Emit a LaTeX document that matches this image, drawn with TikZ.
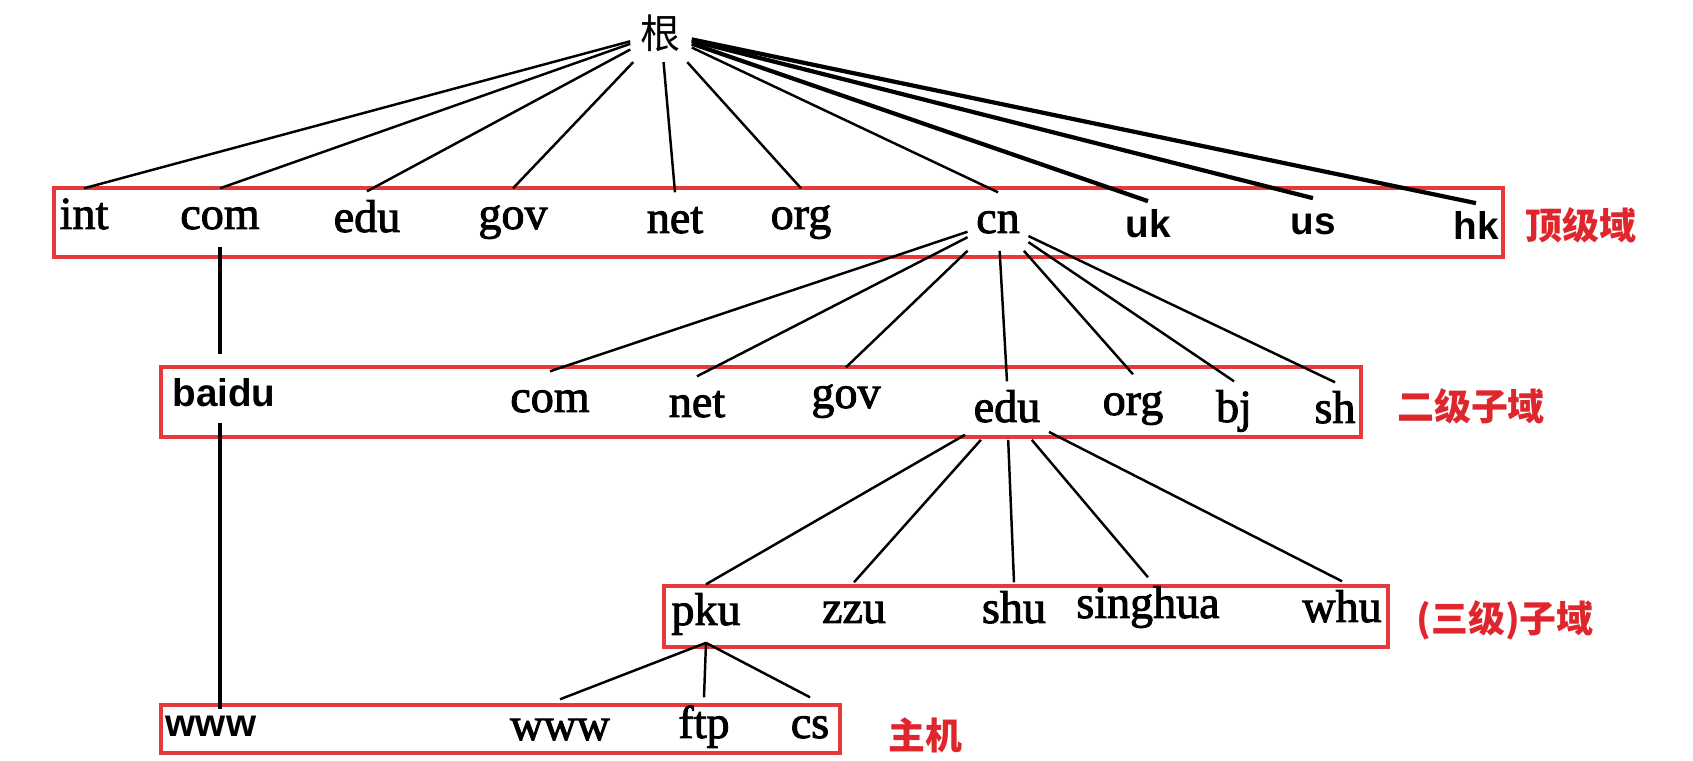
\documentclass[tikz,border=0pt]{standalone}
\usepackage{fontspec}
\setmainfont{Liberation Serif}[FakeBold=2]
\newfontfamily\hostsans{Liberation Sans}
\newfontfamily\cjk{Noto Sans CJK SC}
\definecolor{boxred}{RGB}{228,58,60}
\definecolor{tagred}{RGB}{222,38,44}

\begin{document}
\begin{tikzpicture}[x=0.01cm,y=-0.01cm,
    dom/.style={anchor=base,inner sep=0.08cm,text height=9.1pt,text depth=2.6pt,font=\fontsize{13.1pt}{15pt}\selectfont},
    bolddom/.style={dom,text height=8pt,text depth=2.2pt,font=\fontsize{11pt}{13pt}\selectfont\hostsans\bfseries},
    tag/.style={text=tagred,font=\fontsize{10.5pt}{12pt}\selectfont\cjk\bfseries},
    levelbox/.style={draw=boxred,line width=1.4pt},
    edge/.style={line width=0.7pt},
    thickedge/.style={line width=1.2pt},
    trunk/.style={line width=1.4pt}]
        \useasboundingbox(0,0)rectangle(1693,761);
        \draw[levelbox](54,188)rectangle(1503,257);
        \draw[levelbox](161,367)rectangle(1361,437);
        \draw[levelbox](664,586)rectangle(1388,647);
        \draw[levelbox](161,705)rectangle(840,753);
        \node[font=\fontsize{11.4pt}{13pt}\selectfont\cjk,inner sep=0.1cm](root)at(661,33){根};
        \node[dom](int1)at(84,229){int};
        \node[dom](com1)at(220,229){com};
        \node[dom](edu1)at(367,232){edu};
        \node[dom](gov1)at(513,229){gov};
        \node[dom](net1)at(675,233){net};
        \node[dom](org1)at(801,229){org};
        \node[dom](cn1)at(998,233){cn};
        \node[bolddom](uk1)at(1148,238){uk};
        \node[bolddom](us1)at(1313,235){us};
        \node[bolddom](hk1)at(1476,240){hk};
        \node[bolddom](baidu)at(224,407){baidu};
        \node[dom](com2)at(550,412){com};
        \node[dom](net2)at(697,417){net};
        \node[dom](gov2)at(846,408){gov};
        \node[dom](edu2)at(1007,422){edu};
        \node[dom](org2)at(1133,415){org};
        \node[dom](bj2)at(1234,422){bj};
        \node[dom](sh2)at(1335,423){sh};
        \node[dom](pku3)at(706,625){pku};
        \node[dom](zzu3)at(854,623){zzu};
        \node[dom](shu3)at(1014,623){shu};
        \node[dom](singhua3)at(1148,618){singhua};
        \node[dom](whu3)at(1342,622){whu};
        \node[bolddom](www4)at(211,737){www};
        \node[dom](wwwb4)at(560,740){www};
        \node[dom](ftp4)at(704,738){ftp};
        \node[dom](cs4)at(810,738){cs};
        \node[tag](toptag)at(1581,225){顶级域};
        \node[tag](secondtag)at(1471,406){二级子域};
        \node[tag](thirdtag)at(1505,620){(三级)子域};
        \node[tag](hosttag)at(925,735){主机};
        \draw[edge](root)--(int1.north);
        \draw[edge](root)--(com1.north);
        \draw[edge](root)--(edu1.north);
        \draw[edge](root)--(gov1.north);
        \draw[edge](root)--(net1.north);
        \draw[edge](root)--(org1.north);
        \draw[edge](root)--(cn1.north);
        \draw[thickedge](root)--(uk1.north);
        \draw[thickedge](root)--(us1.north);
        \draw[thickedge](root)--(hk1.north);
        \draw[edge](cn1)--(com2.north);
        \draw[edge](cn1)--(net2.north);
        \draw[edge](cn1)--(gov2.north);
        \draw[edge](cn1)--(edu2.north);
        \draw[edge](cn1)--(org2.north);
        \draw[edge](cn1)--(bj2.north);
        \draw[edge](cn1)--(sh2.north);
        \draw[edge](edu2)--(pku3.north);
        \draw[edge](edu2)--(zzu3.north);
        \draw[edge](edu2)--(shu3.north);
        \draw[edge](edu2)--(singhua3.north);
        \draw[edge](edu2)--(whu3.north);
        \draw[edge](pku3.south)--(wwwb4.north);
        \draw[edge](pku3.south)--(ftp4.north);
        \draw[edge](pku3.south)--(cs4.north);
        \draw[trunk,shorten >=0.16cm](com1.south)--(com1.south|-baidu.north);
        \draw[trunk,shorten >=-0.09cm](com1.south|-baidu.south)--(com1.south|-www4.north);
    \end{tikzpicture}
\end{document}
